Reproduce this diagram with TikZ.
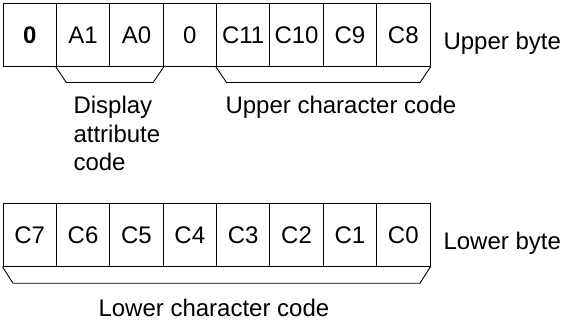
\documentclass[tikz,border=0pt]{standalone}
\usepackage{fontspec}
\setmainfont{Liberation Sans}
\usetikzlibrary{calc}
\begin{document}
\begin{tikzpicture}[x=1pt,y=-1pt,
  line width=1pt,
  every node/.style={font=\fontsize{24}{28.5}\selectfont},
  cell/.style={draw, rectangle, minimum width=53.375pt, minimum height=63pt, inner sep=0pt, text height=17pt, text depth=0pt},
  lbl/.style={inner sep=0pt, anchor=base west},
  brk/.style={line width=0.9pt}]
\useasboundingbox (0,0) rectangle (562,326);
% upper row
\foreach \t [count=\i] in {{\textbf{0}},A1,A0,0,C11,C10,C9,C8} {
  \node[cell] (u\i) at ({3+53.375*(\i-0.5)},35) {\t};
}
% lower row
\foreach \t [count=\i] in {C7,C6,C5,C4,C3,C2,C1,C0} {
  \node[cell] (l\i) at ({3+53.375*(\i-0.5)},234.75) {\t};
}
% brackets
\draw[brk] (u2.south west) -- ++(10.5,15.5) -- ($(u3.south east)+(-10.5,15.5)$) -- (u3.south east);
\draw[brk] (u5.south west) -- ++(10.5,15.5) -- ($(u8.south east)+(-10.5,15.5)$) -- (u8.south east);
\draw[brk] (l1.south west) -- ++(10.5,16.5) -- ($(l8.south east)+(-10.5,16.5)$) -- (l8.south east);
% labels
\node[lbl] (ub) at (443,49.5) {Upper byte};
\node[lbl] (lb) at (443,249.5) {Lower byte};
\node[lbl] (da1) at (73,114) {Display};
\node[lbl] (da2) at (73,142.5) {attribute};
\node[lbl] (da3) at (73,171) {code};
\node[lbl] (ucc) at (225,114) {Upper character code};
\node[lbl] (lcc) at (98,316) {Lower character code};
\end{tikzpicture}
\end{document}
